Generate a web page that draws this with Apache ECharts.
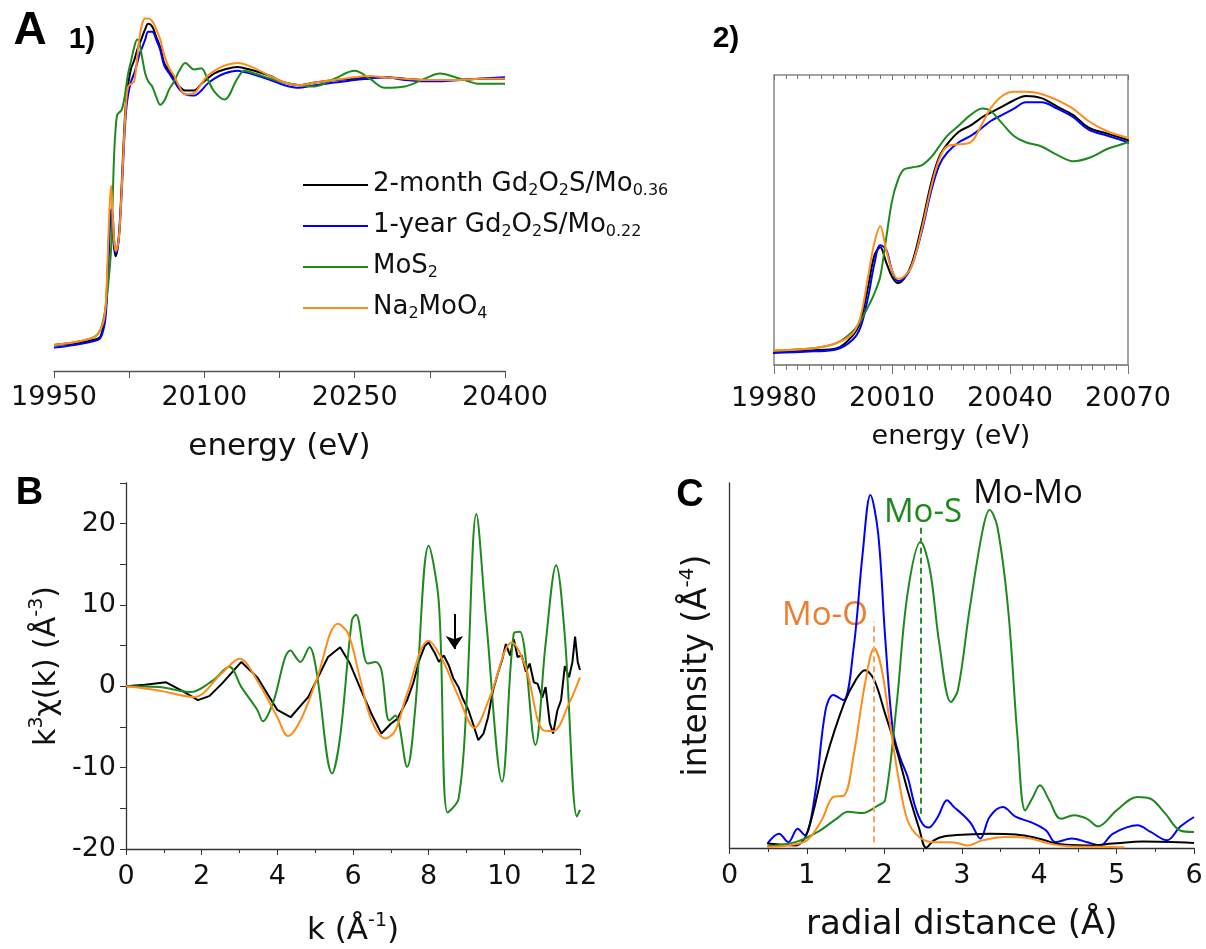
<!DOCTYPE html>
<html>
<head>
<meta charset="utf-8">
<script src="https://cdn.jsdelivr.net/npm/echarts@6/dist/echarts.min.js"></script>
<style>
html, body { margin: 0; padding: 0; background: #fff; }
#chart { width: 1206px; height: 949px; }
</style>
</head>
<body>
<div id="chart"></div>
<script>
// A: normalised Mo K-edge XANES, shared energy grid (eV)
const energy = [19950, 19970, 19990, 19996, 20000, 20002, 20004, 20005.5, 20007, 20008.5,
  20010, 20011.5, 20013, 20015, 20017.5, 20020, 20022, 20024, 20027, 20030,
  20033, 20035, 20038, 20041, 20044, 20048, 20052, 20056, 20060, 20065,
  20070, 20075, 20081, 20090, 20097, 20103, 20110, 20120, 20133, 20140,
  20150, 20166, 20180, 20195, 20210, 20230, 20250, 20265, 20280, 20300,
  20320, 20335, 20355, 20375, 20400]
const mu2month = [0.0, 0.005, 0.02, 0.03, 0.09, 0.16, 0.33, 0.47, 0.51, 0.44,
  0.37, 0.34, 0.36, 0.43, 0.61, 0.82, 0.94, 1.0, 1.06, 1.09,
  1.13, 1.15, 1.18, 1.21, 1.23, 1.22, 1.18, 1.14, 1.08, 1.05,
  1.02, 0.99, 0.975, 0.975, 1.0, 1.02, 1.04, 1.055, 1.065, 1.06,
  1.05, 1.03, 1.005, 0.995, 1.005, 1.015, 1.02, 1.025, 1.025, 1.02,
  1.015, 1.015, 1.015, 1.02, 1.02]
const mu1year = [-0.01, 0.0, 0.015, 0.025, 0.07, 0.13, 0.28, 0.43, 0.52, 0.50,
  0.40, 0.35, 0.36, 0.42, 0.58, 0.78, 0.90, 0.96, 1.01, 1.04,
  1.08, 1.11, 1.14, 1.17, 1.2, 1.2, 1.17, 1.13, 1.07, 1.04,
  1.01, 0.98, 0.96, 0.955, 0.975, 1.0, 1.02, 1.04, 1.05, 1.045,
  1.035, 1.015, 0.995, 0.985, 0.995, 1.005, 1.015, 1.02, 1.025, 1.015,
  1.01, 1.01, 1.015, 1.02, 1.025]
const muMoS2 = [0.0, 0.01, 0.03, 0.055, 0.11, 0.16, 0.23, 0.29, 0.37, 0.55,
  0.73, 0.83, 0.88, 0.89, 0.90, 0.94, 0.99, 1.04, 1.09, 1.14,
  1.17, 1.16, 1.10, 1.04, 1.01, 0.99, 0.95, 0.92, 0.935, 0.98,
  1.01, 1.05, 1.08, 1.055, 1.06, 1.02, 0.97, 0.94, 1.02, 1.05,
  1.04, 1.02, 1.005, 0.995, 0.99, 1.02, 1.05, 1.02, 0.985, 0.99,
  1.02, 1.04, 1.02, 1.0, 1.0]
const muNa2MoO4 = [0.0, 0.01, 0.03, 0.055, 0.10, 0.18, 0.38, 0.53, 0.61, 0.50,
  0.40, 0.36, 0.37, 0.42, 0.59, 0.80, 0.93, 0.99, 1.00, 1.01,
  1.10, 1.17, 1.23, 1.25, 1.25, 1.24, 1.21, 1.17, 1.11, 1.06,
  1.03, 0.99, 0.96, 0.965, 1.0, 1.03, 1.05, 1.07, 1.08, 1.075,
  1.06, 1.03, 1.005, 0.995, 1.005, 1.015, 1.025, 1.03, 1.025, 1.02,
  1.015, 1.015, 1.015, 1.02, 1.02]

// B: k3-weighted EXAFS
const kBlack = [0, 0.5, 1.06, 1.5, 1.9, 2.2, 2.53, 3.05, 3.47, 4.0,
  4.35, 4.82, 5.34, 5.66, 5.92, 6.18, 6.49, 6.75, 7.0, 7.17,
  7.43, 7.6, 7.75, 7.9, 8.0, 8.15, 8.27, 8.4, 8.53, 8.65,
  8.79, 8.9, 9.05, 9.2, 9.31, 9.45, 9.57, 9.7, 9.83, 9.95,
  10.04, 10.15, 10.25, 10.35, 10.46, 10.57, 10.67, 10.78, 10.88, 11.0,
  11.09, 11.2, 11.29, 11.4, 11.5, 11.6, 11.71, 11.8, 11.87, 11.94, 12.0]
const chiBlack = [0, 0.2, 0.5, -0.6, -1.7, -1.2, 0.3, 3.0, 1.1, -2.9,
  -3.8, -1.3, 3.6, 4.8, 2.8, -0.1, -3.4, -5.8, -4.6, -4.0,
  -1.7, 0.5, 3.2, 5.0, 5.4, 4.2, 3.0, 3.8, 2.6, 1.0,
  -0.1, -1.5, -2.9, -5.0, -6.6, -5.8, -3.8, -0.5, 1.6, 3.4,
  5.2, 3.8, 5.8, 3.6, 3.8, 1.8, 2.8, 0.5, 0.3, -1.4,
  -0.1, -4.5, -5.8, -3.0, -1.7, 2.5, 1.1, 3.0, 6.1, 3.0, 2.0]
const kOrange = [0, 0.86, 1.8, 2.53, 3.0, 3.47, 4.0, 4.28, 4.61, 5.03,
  5.6, 5.87, 6.18, 6.49, 6.86, 7.12, 7.43, 8.0, 8.37, 8.79,
  9.21, 9.62, 10.2, 10.56, 11.03, 11.29, 11.71, 12.0]
const chiOrange = [0, -0.5, -1.3, 1.6, 3.4, 0.7, -3.8, -6.1, -4.2, 0.7,
  7.7, 6.5, 1.1, -4.2, -6.4, -5.4, -0.9, 5.6, 3.2, -1.3,
  -5.1, -1.3, 5.4, 2.4, -5.4, -5.5, -2.1, 1.1]
const kGreen = [0, 0.86, 1.69, 2.3, 2.73, 3.05, 3.47, 3.62, 3.88, 4.35,
  4.61, 4.85, 5.03, 5.45, 5.66, 5.97, 6.08, 6.39, 6.6, 6.75,
  6.96, 7.12, 7.43, 7.64, 8.0, 8.27, 8.5, 8.79, 9.0, 9.26,
  9.52, 9.94, 10.25, 10.41, 10.82, 11.09, 11.37, 11.6, 11.92, 12.0]
const chiGreen = [0, -0.08, -0.7, 0.74, 2.4, -0.1, -2.9, -4.3, -2.1, 4.4,
  3.0, 4.8, 2.0, -10.7, -6.2, 8.1, 8.8, 2.8, 3.0, 2.0,
  -4.2, -3.6, -9.9, -3.0, 17.3, 10.2, -15.5, -13.8, -2.1, 21.2,
  8.1, -11.7, 6.5, 6.7, -7.2, 5.2, 14.9, 6.1, -16, -15.2]
const arrowK = 8.68
const arrowFrom = 8.9
const arrowTo = 4.6

// C: Fourier transform magnitude
const rBlue = [0.49, 0.64, 0.76, 0.88, 0.97, 1.1, 1.24, 1.34, 1.47, 1.6,
  1.72, 1.82, 1.92, 2.01, 2.11, 2.2, 2.3, 2.4, 2.49, 2.57,
  2.69, 2.81, 2.9, 3.0, 3.12, 3.24, 3.36, 3.53, 3.7, 3.89,
  4.09, 4.21, 4.42, 4.62, 4.79, 4.95, 5.27, 5.44, 5.65, 5.82, 6.0]
const ftBlue = [0.012, 0.039, 0.016, 0.053, 0.035, 0.14, 0.377, 0.419, 0.405, 0.542,
  0.807, 0.967, 0.862, 0.579, 0.323, 0.25, 0.195, 0.112, 0.067, 0.056,
  0.085, 0.131, 0.112, 0.094, 0.067, 0.026, 0.085, 0.112, 0.085, 0.071,
  0.048, 0.016, 0.026, 0.016, 0.007, 0.039, 0.062, 0.044, 0.021, 0.058, 0.085]
const rBlack = [0.49, 0.85, 1.0, 1.24, 1.48, 1.63, 1.75, 1.87, 2.01, 2.16,
  2.3, 2.45, 2.54, 2.64, 2.78, 3.07, 3.36, 3.7, 3.99, 4.28,
  4.62, 4.95, 5.34, 6.0]
const ftBlack = [0.012, 0.007, 0.039, 0.24, 0.396, 0.46, 0.487, 0.46, 0.368, 0.268,
  0.158, 0.053, 0.001, 0.021, 0.032, 0.037, 0.039, 0.037, 0.026, 0.01,
  0.007, 0.012, 0.018, 0.014]
const rOrange = [0.49, 0.76, 1.0, 1.19, 1.34, 1.48, 1.6, 1.75, 1.87, 1.96,
  2.06, 2.18, 2.3, 2.45, 2.64, 2.88, 3.07, 3.27, 3.56, 3.89,
  4.13, 4.38, 4.95, 5.1]
const ftOrange = [0.003, 0.007, 0.021, 0.076, 0.14, 0.144, 0.25, 0.45, 0.547, 0.496,
  0.359, 0.195, 0.076, 0.03, 0.016, 0.016, 0.007, 0.021, 0.03, 0.026,
  0.012, 0.005, 0.003, 0.002]
const rGreen = [0.49, 0.85, 1.14, 1.38, 1.53, 1.72, 1.92, 2.01, 2.16, 2.3,
  2.47, 2.59, 2.71, 2.86, 2.95, 3.1, 3.27, 3.36, 3.46, 3.6,
  3.72, 3.82, 3.92, 4.01, 4.13, 4.28, 4.45, 4.62, 4.76, 5.0,
  5.27, 5.44, 5.63, 5.82, 6.0]
const ftGreen = [0.005, 0.016, 0.044, 0.08, 0.099, 0.096, 0.117, 0.131, 0.396, 0.697,
  0.839, 0.761, 0.56, 0.4, 0.432, 0.652, 0.871, 0.926, 0.88, 0.652,
  0.304, 0.103, 0.14, 0.172, 0.131, 0.08, 0.09, 0.08, 0.059, 0.103,
  0.14, 0.135, 0.094, 0.048, 0.044]
// dashed guide lines: [r, from, to]
const moOLine = [1.86, 0.016, 0.62]
const moSLine = [2.47, 0.094, 0.88]

const names = ['2-month', '1-year', 'MoS2', 'Na2MoO4']
const legendText = {
  '2-month': '{n|2-month Gd}{s|2}{n|O}{s|2}{n|S/Mo}{s|0.36}',
  '1-year': '{n|1-year Gd}{s|2}{n|O}{s|2}{n|S/Mo}{s|0.22}',
  'MoS2': '{n|MoS}{s|2}',
  'Na2MoO4': '{n|Na}{s|2}{n|MoO}{s|4}'
}
const colors = {
  '2-month': '#000000',
  '1-year': '#0000ff',
  'MoS2': '#1e8a1e',
  'Na2MoO4': '#ff8c1a'
}
const xanes = {
  '2-month': mu2month,
  '1-year': mu1year,
  'MoS2': muMoS2,
  'Na2MoO4': muNa2MoO4
}

const zip = (xs, ys) => xs.map((x, i) => [x, ys[i]])
const font = 'DejaVu Sans'

function line(name, data, xi, yi, color, extra) {
  return Object.assign({
    name: name,
    type: 'line',
    xAxisIndex: xi,
    yAxisIndex: yi,
    data: data,
    symbol: 'none',
    smooth: 0.35,
    clip: true,
    lineStyle: { color: color, width: 2 },
    itemStyle: { color: color }
  }, extra || {})
}

const series = []
// A1 and A2 share the same spectra
names.forEach(n => series.push(line(n, zip(energy, xanes[n]), 0, 0, colors[n])))
names.forEach(n => series.push(line(n, zip(energy, xanes[n]), 1, 1, colors[n])))

// B
series.push(line('B 2-month', zip(kBlack, chiBlack), 3, 2, '#000000', {
  smooth: false,
  markLine: {
    silent: true,
    symbol: ['none', 'arrow'],
    symbolSize: 13,
    label: { show: false },
    lineStyle: { color: '#000', width: 2, type: 'solid' },
    data: [[{ coord: [arrowK, arrowFrom] }, { coord: [arrowK, arrowTo] }]]
  }
}))
series.push(line('B MoS2', zip(kGreen, chiGreen), 3, 2, colors['MoS2']))
series.push(line('B Na2MoO4', zip(kOrange, chiOrange), 3, 2, colors['Na2MoO4']))

// C
series.push(line('C 1-year', zip(rBlue, ftBlue), 4, 3, colors['1-year']))
series.push(line('C 2-month', zip(rBlack, ftBlack), 4, 3, colors['2-month']))
series.push(line('C MoS2', zip(rGreen, ftGreen), 4, 3, colors['MoS2'], {
  markLine: {
    silent: true,
    symbol: 'none',
    label: { show: false },
    lineStyle: { color: '#2e8b2e', width: 2, type: [6, 4] },
    data: [[{ coord: [moSLine[0], moSLine[1]] }, { coord: [moSLine[0], moSLine[2]] }]]
  }
}))
series.push(line('C Na2MoO4', zip(rOrange, ftOrange), 4, 3, colors['Na2MoO4'], {
  markLine: {
    silent: true,
    symbol: 'none',
    label: { show: false },
    lineStyle: { color: '#f5a46a', width: 2, type: [6, 4] },
    data: [[{ coord: [moOLine[0], moOLine[1]] }, { coord: [moOLine[0], moOLine[2]] }]]
  }
}))

const tickLabel = { fontFamily: font, fontSize: 27, color: '#111', formatter: v => String(v) }

const myChart = echarts.init(document.getElementById('chart'))
myChart.setOption({
  animation: false,
  backgroundColor: '#fff',
  textStyle: { fontFamily: font },
  grid: [
    { left: 54, right: 701, top: 10, bottom: 578 },
    { left: 774, right: 78, top: 75, bottom: 584, show: true, borderColor: '#888', borderWidth: 1.5 },
    { left: 126, right: 626, top: 483, bottom: 100 },
    { left: 729.5, right: 12, top: 483, bottom: 101 }
  ],
  legend: {
    orient: 'vertical',
    left: 303,
    top: 167,
    padding: 0,
    icon: 'rect',
    itemWidth: 65,
    itemHeight: 2,
    itemGap: 9,
    data: names,
    formatter: n => legendText[n],
    textStyle: {
      color: '#111',
      fontFamily: font,
      rich: {
        n: { fontSize: 26, lineHeight: 28, verticalAlign: 'top', fontFamily: font, color: '#111' },
        s: { fontSize: 16, lineHeight: 16, padding: [16, 0, 0, 0], verticalAlign: 'bottom', fontFamily: font, color: '#111' }
      }
    }
  },
  xAxis: [
    {
      gridIndex: 0, type: 'value', min: 19950, max: 20400, interval: 150,
      axisLine: { onZero: false, lineStyle: { color: '#555', width: 1.3 } },
      axisTick: { length: 7, lineStyle: { color: '#555' } },
      minorTick: { show: true, splitNumber: 2, length: 7, lineStyle: { color: '#555' } },
      splitLine: { show: false },
      axisLabel: Object.assign({ margin: 13 }, tickLabel),
      name: 'energy (eV)', nameLocation: 'middle', nameGap: 60,
      nameTextStyle: { fontFamily: font, fontSize: 31, color: '#111' }
    },
    {
      gridIndex: 1, type: 'value', min: 19980, max: 20070, interval: 30,
      axisLine: { onZero: false, lineStyle: { color: '#888', width: 1.5 } },
      axisTick: { length: 9, lineStyle: { color: '#777' } },
      minorTick: { show: true, splitNumber: 10, length: 5, lineStyle: { color: '#777' } },
      splitLine: { show: false },
      axisLabel: Object.assign({ margin: 20 }, tickLabel),
      name: 'energy (eV)', nameLocation: 'middle', nameGap: 58,
      nameTextStyle: { fontFamily: font, fontSize: 27, color: '#111' }
    },
    {
      gridIndex: 1, type: 'value', position: 'top', min: 19980, max: 20070, interval: 30,
      axisLine: { show: false, onZero: false },
      axisTick: { inside: true, length: 5, lineStyle: { color: '#777' } },
      minorTick: { show: true, splitNumber: 10, length: 4, lineStyle: { color: '#777' } },
      splitLine: { show: false },
      axisLabel: { show: false }
    },
    {
      gridIndex: 2, type: 'value', min: 0, max: 12, interval: 2,
      axisLine: { onZero: false, lineStyle: { color: '#333', width: 1.3 } },
      axisTick: { length: 6, lineStyle: { color: '#333' } },
      minorTick: { show: true, splitNumber: 2, length: 4, lineStyle: { color: '#333' } },
      splitLine: { show: false },
      axisLabel: Object.assign({ margin: 14 }, tickLabel),
      name: '{n|k (Å}{p|-1}{n|)}', nameLocation: 'middle', nameGap: 63,
      nameTextStyle: {
        rich: {
          n: { fontFamily: font, fontSize: 31, lineHeight: 34, verticalAlign: 'bottom', color: '#111', padding: [6, 0, 0, 0] },
          p: { fontFamily: font, fontSize: 19, lineHeight: 19, verticalAlign: 'top', color: '#111' }
        }
      }
    },
    {
      gridIndex: 3, type: 'value', min: 0, max: 6, interval: 1,
      axisLine: { onZero: false, lineStyle: { color: '#333', width: 1.3 } },
      axisTick: { length: 6, lineStyle: { color: '#333' } },
      minorTick: { show: true, splitNumber: 2, length: 4, lineStyle: { color: '#333' } },
      splitLine: { show: false },
      axisLabel: Object.assign({ margin: 14 }, tickLabel),
      name: 'radial distance (Å)', nameLocation: 'middle', nameGap: 60,
      nameTextStyle: { fontFamily: font, fontSize: 34, color: '#111' }
    }
  ],
  yAxis: [
    { gridIndex: 0, type: 'value', min: -0.1, max: 1.283, show: false },
    {
      gridIndex: 1, type: 'value', min: -0.05, max: 1.33,
      axisLine: { show: false }, axisTick: { show: false }, axisLabel: { show: false },
      splitLine: { show: false }
    },
    {
      gridIndex: 2, type: 'value', min: -20, max: 25, interval: 5,
      axisLine: { show: true, onZero: false, lineStyle: { color: '#333', width: 1.3 } },
      axisTick: { show: true, length: 6, lineStyle: { color: '#333' } },
      splitLine: { show: false },
      axisLabel: Object.assign({}, tickLabel, {
        margin: 10,
        formatter: v => (v % 10 === 0 && v !== 25) ? String(v) : ''
      }),
      name: '{n|k}{p|3}{n|χ(k) (Å}{p|-3}{n|)}', nameLocation: 'middle', nameGap: 64,
      nameTextStyle: {
        rich: {
          n: { fontFamily: font, fontSize: 30, lineHeight: 34, verticalAlign: 'bottom', color: '#111', padding: [6, 0, 0, 0] },
          p: { fontFamily: font, fontSize: 19, lineHeight: 19, verticalAlign: 'top', color: '#111' }
        }
      }
    },
    {
      gridIndex: 3, type: 'value', min: 0, max: 1,
      axisLine: { show: true, onZero: false, lineStyle: { color: '#333', width: 1.3 } },
      axisTick: { show: false }, axisLabel: { show: false },
      splitLine: { show: false },
      name: '{n|intensity (Å}{p|-4}{n|)}', nameLocation: 'middle', nameGap: 16,
      nameTextStyle: {
        rich: {
          n: { fontFamily: font, fontSize: 33, lineHeight: 36, verticalAlign: 'bottom', color: '#111', padding: [6, 0, 0, 0] },
          p: { fontFamily: font, fontSize: 20, lineHeight: 20, verticalAlign: 'top', color: '#111' }
        }
      }
    }
  ],
  graphic: [
    { type: 'text', x: 30, y: 31, style: { text: 'A', font: 'bold 46px "Liberation Sans"', fill: '#000', align: 'center', verticalAlign: 'middle' } },
    { type: 'text', x: 82, y: 40, style: { text: '1)', font: 'bold 30px "Liberation Sans"', fill: '#000', align: 'center', verticalAlign: 'middle' } },
    { type: 'text', x: 726, y: 39, style: { text: '2)', font: 'bold 30px "Liberation Sans"', fill: '#000', align: 'center', verticalAlign: 'middle' } },
    { type: 'text', x: 29.5, y: 494, style: { text: 'B', font: 'bold 38px "Liberation Sans"', fill: '#000', align: 'center', verticalAlign: 'middle' } },
    { type: 'text', x: 690, y: 496, style: { text: 'C', font: 'bold 38px "Liberation Sans"', fill: '#000', align: 'center', verticalAlign: 'middle' } },
    { type: 'text', x: 825, y: 616, style: { text: 'Mo-O', font: '33px "Open Sans"', fill: '#ed7d31', align: 'center', verticalAlign: 'middle' } },
    { type: 'text', x: 923, y: 513, style: { text: 'Mo-S', font: '33px "Open Sans"', fill: '#1e8a1e', align: 'center', verticalAlign: 'middle' } },
    { type: 'text', x: 1028, y: 494, style: { text: 'Mo-Mo', font: '33px "Open Sans"', fill: '#111', align: 'center', verticalAlign: 'middle' } }
  ],
  series: series
})
</script>
</body>
</html>
